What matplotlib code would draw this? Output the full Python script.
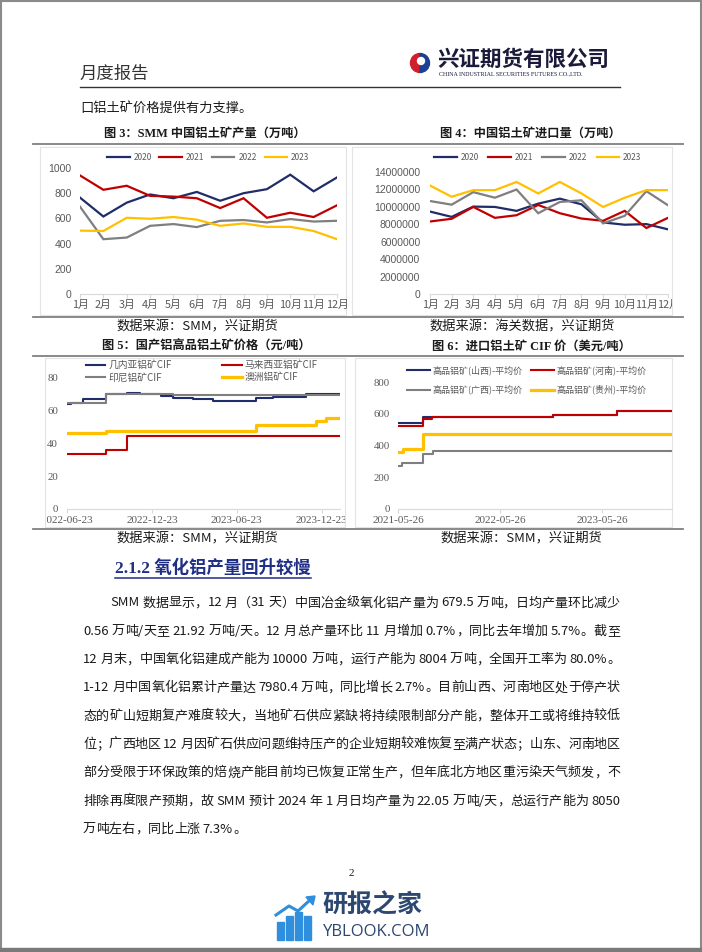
import matplotlib
matplotlib.use('Agg')
import matplotlib.pyplot as plt
import pandas as pd
import matplotlib.dates as mdates
from matplotlib.patches import Rectangle, Wedge, Circle, Polygon
from matplotlib.font_manager import FontProperties
from matplotlib.ticker import FuncFormatter
from matplotlib.transforms import Bbox, TransformedBbox

# ---------- data ----------
months = ['1月', '2月', '3月', '4月', '5月', '6月', '7月', '8月', '9月', '10月', '11月', '12月']
years = ['2020', '2021', '2022', '2023']

# 图3 SMM 中国铝土矿产量（万吨）
prod_2020 = [765, 615, 725, 790, 760, 810, 740, 800, 832, 947, 815, 925]
prod_2021 = [941, 827, 859, 779, 773, 760, 682, 760, 605, 645, 611, 704]
prod_2022 = [693, 435, 448, 541, 555, 531, 581, 587, 568, 595, 575, 581]
prod_2023 = [503, 500, 605, 597, 611, 590, 541, 560, 533, 533, 500, 435]

# 图4 中国铝土矿进口量
imp_2020 = [9460000, 8850000, 10030000, 9990000, 9540000, 10370000, 10940000, 10290000, 8210000, 7950000, 8020000, 7420000]
imp_2021 = [8320000, 8630000, 9990000, 8740000, 9040000, 10220000, 9270000, 8660000, 8400000, 9540000, 7570000, 8740000]
imp_2022 = [10670000, 10250000, 11690000, 11050000, 11990000, 9270000, 10560000, 10750000, 8100000, 8970000, 11800000, 10180000]
imp_2023 = [12450000, 11160000, 11920000, 11920000, 12860000, 11540000, 12860000, 11540000, 9990000, 11050000, 11920000, 11920000]

# 图5 国产铝高品铝土矿价格（阶梯数据：变动日期, 价格）
guinea_dates = ['2022-06-23', '2022-07-01', '2022-07-28', '2022-09-15', '2022-10-29', '2022-11-27', '2023-01-12',
                '2023-02-06', '2023-03-21', '2023-05-03', '2023-08-04', '2023-09-09', '2023-11-19', '2024-01-31']
guinea_vals = [64, 65, 67, 70, 71, 70, 69, 68, 67, 66, 68, 68.5, 70.5, 70.5]
malay_dates = ['2022-06-23', '2022-09-15', '2022-10-29', '2024-01-31']
malay_vals = [33.5, 36.3, 44.3, 44.3]
indo_dates = ['2022-06-23', '2022-09-15', '2022-11-27', '2023-02-06', '2024-01-31']
indo_vals = [65, 70.5, 70, 69.5, 69.5]
aus_dates = ['2022-06-23', '2022-09-15', '2023-08-04', '2023-12-11', '2024-01-01', '2024-01-31']
aus_vals = [46.3, 47.5, 51, 53.5, 55.5, 55.5]

# 图6 进口铝土矿 CIF 价
shanxi_dates = ['2021-05-26', '2021-08-25', '2022-12-03', '2023-07-17', '2024-01-31']
shanxi_vals = [540, 580, 590, 615, 615]
henan_dates = ['2021-05-26', '2021-08-25', '2021-09-23', '2022-12-03', '2023-07-17', '2024-01-31']
henan_vals = [525, 565, 580, 590, 618, 618]
guangxi_dates = ['2021-05-26', '2021-06-08', '2021-08-25', '2021-09-29', '2024-01-31']
guangxi_vals = [270, 290, 345, 365, 365]
guizhou_dates = ['2021-05-26', '2021-06-12', '2021-08-25', '2024-01-31']
guizhou_vals = [360, 375, 475, 475]

body_lines = [
    "SMM 数据显示，12 月（31 天）中国冶金级氧化铝产量为 679.5 万吨，日均产量环比减少",
    "0.56 万吨/天至 21.92 万吨/天。12 月总产量环比 11 月增加 0.7%，同比去年增加 5.7%。截至",
    "12 月末，中国氧化铝建成产能为 10000 万吨，运行产能为 8004 万吨，全国开工率为 80.0%。",
    "1-12 月中国氧化铝累计产量达 7980.4 万吨，同比增长 2.7%。目前山西、河南地区处于停产状",
    "态的矿山短期复产难度较大，当地矿石供应紧缺将持续限制部分产能，整体开工或将维持较低",
    "位；广西地区 12 月因矿石供应问题维持压产的企业短期较难恢复至满产状态；山东、河南地区",
    "部分受限于环保政策的焙烧产能目前均已恢复正常生产，但年底北方地区重污染天气频发，不",
    "排除再度限产预期，故 SMM 预计 2024 年 1 月日均产量为 22.05 万吨/天，总运行产能为 8050",
    "万吨左右，同比上涨 7.3%。",
]

# ---------- style ----------
W, H = 702, 952
CJK = ['Noto Sans CJK SC', 'DejaVu Sans']
SERIF = ['Liberation Serif', 'Noto Sans CJK SC']
plt.rcParams['font.family'] = CJK
NAVY, RED, GRAY, GOLD = '#1f2d69', '#c00000', '#7f7f7f', '#ffc000'
TICK = '#595959'
TXT = '#1a1a1a'

fig = plt.figure(figsize=(W / 100, H / 100), dpi=100)
bg = fig.add_axes([0, 0, 1, 1])
bg.set_xlim(0, W)
bg.set_ylim(H, 0)
bg.axis('off')


def add_ax(l, t, r, b):
    ax = fig.add_axes([l / W, 1 - b / H, (r - l) / W, (b - t) / H])
    ax.set_facecolor('none')
    for s in ['top', 'right', 'left']:
        ax.spines[s].set_visible(False)
    ax.spines['bottom'].set_color('#d9d9d9')
    return ax


def clip_xlabels(ax, x0, x1):
    box = TransformedBbox(Bbox.from_extents(x0, 0, x1, H), bg.transData)
    for lbl in ax.get_xticklabels():
        lbl.set_clip_on(True)
        lbl.set_clip_box(box)


# page frame
bg.add_patch(Rectangle((0.7, 0.7), W - 1.4, H - 1.4, fill=False, edgecolor='#8a8a8a', lw=1.5))
bg.add_patch(Rectangle((0, 948), W, 4, color='#7a7a7a'))

# ---------- header ----------
bg.text(79, 74, '月度报告', fontsize=12.5, color='#333333', va='center', ha='left')
bg.plot([80, 620], [87, 87], color='#333333', lw=1)
bg.add_patch(Wedge((420, 63), 9.5, 90, 270, color='#d0202e'))
bg.add_patch(Wedge((420, 63), 9.5, 270, 90, color='#1c3f94'))
bg.add_patch(Circle((421, 61), 3.5, color='white'))
bg.text(437, 59, '兴证期货有限公司', fontsize=15.5, fontweight='bold', color='#1a1a3a', va='center', ha='left')
bg.text(439, 74, 'CHINA INDUSTRIAL SECURITIES FUTURES CO.,LTD.', fontsize=4.3, family=SERIF,
        color='#1a1a3a', va='center', ha='left')
bg.text(80, 108, '口铝土矿价格提供有力支撑。', fontsize=9.5, color=TXT, va='center', ha='left')

# table rules and chart frames
for y in [144, 317, 356, 529]:
    bg.plot([33, 683], [y, y], color='#808080', lw=1.3)
for l, t, r, b in [(40, 147, 346, 315), (352, 147, 672, 315), (45, 358, 345, 527), (355, 358, 672, 527)]:
    bg.add_patch(Rectangle((l, t), r - l, b - t, fill=False, edgecolor='#e3e3e3', lw=0.8))

# titles & sources
title_kw = dict(fontsize=8.8, fontweight='bold', family=SERIF, color=TXT, va='center', ha='center')
bg.text(205, 134, '图 3：SMM 中国铝土矿产量（万吨）', **title_kw)
bg.text(530, 134, '图 4：中国铝土矿进口量（万吨）', **title_kw)
bg.text(206, 347, '图 5：国产铝高品铝土矿价格（元/吨）', **title_kw)
bg.text(531, 347, '图 6：进口铝土矿 CIF 价（美元/吨）', **title_kw)
src_kw = dict(fontsize=9.5, color=TXT, va='center', ha='center')
bg.text(197, 327, '数据来源：SMM，兴证期货', **src_kw)
bg.text(522, 327, '数据来源：海关数据，兴证期货', **src_kw)
bg.text(197, 539, '数据来源：SMM，兴证期货', **src_kw)
bg.text(521, 539, '数据来源：SMM，兴证期货', **src_kw)


# ---------- monthly line charts ----------
def month_chart(ax, series, ymax, ystep, pad):
    for vals, c, yr in zip(series, [NAVY, RED, GRAY, GOLD], years):
        ax.plot(range(12), vals, color=c, lw=1.6, label=yr, solid_joinstyle='miter')
    ax.set_xlim(0, 11)
    ax.set_ylim(0, ymax)
    ax.set_yticks(range(0, ymax + 1, ystep))
    ax.yaxis.set_major_formatter(FuncFormatter(lambda v, p: f'{int(v)}'))
    ax.set_xticks(range(12))
    ax.set_xticklabels(months)
    ax.tick_params(axis='y', length=0, pad=pad, labelsize=7.5, labelcolor=TICK)
    ax.tick_params(axis='x', length=3, color='#d9d9d9', pad=1.5, labelsize=7.8, labelcolor=TICK)
    for lbl in ax.get_yticklabels():
        lbl.set_family('Liberation Sans')


ax3 = add_ax(80, 168, 337, 294)
month_chart(ax3, [prod_2020, prod_2021, prod_2022, prod_2023], 1000, 200, 6)
ax3.legend(ncol=4, loc='center left', bbox_to_anchor=(107 / W, 1 - 157 / H), bbox_transform=fig.transFigure,
           frameon=False, fontsize=6, handlelength=2.7, handletextpad=0.5, columnspacing=0.9,
           borderpad=0, borderaxespad=0, labelcolor=TICK)

ax4 = add_ax(430, 172, 668, 294)
month_chart(ax4, [imp_2020, imp_2021, imp_2022, imp_2023], 14000000, 2000000, 7)
ax4.legend(ncol=4, loc='center left', bbox_to_anchor=(434 / W, 1 - 157 / H), bbox_transform=fig.transFigure,
           frameon=False, fontsize=6, handlelength=2.7, handletextpad=0.5, columnspacing=1.1,
           borderpad=0, borderaxespad=0, labelcolor=TICK)
clip_xlabels(ax4, 352, 672)


# ---------- step price charts ----------
def step_series(ax, dates, vals, color, lw, label):
    d = pd.to_datetime(dates)
    return ax.step(d, vals, where='post', color=color, lw=lw, label=label)[0]


def date_axis(ax, start, end, ticks, ymax, ystep, pad):
    ax.set_xlim(pd.Timestamp(start), pd.Timestamp(end))
    ax.set_ylim(0, ymax)
    ax.set_yticks(range(0, ymax + 1, ystep))
    ax.set_xticks(pd.to_datetime(ticks))
    ax.xaxis.set_major_formatter(mdates.DateFormatter('%Y-%m-%d'))
    ax.tick_params(axis='y', length=0, pad=pad, labelsize=7.8, labelcolor=TICK)
    ax.tick_params(axis='x', length=3, color='#d9d9d9', pad=2, labelsize=8, labelcolor=TICK)
    for lbl in ax.get_xticklabels() + ax.get_yticklabels():
        lbl.set_family('Liberation Serif')


ax5 = add_ax(67, 378, 340, 509)
h_gu = step_series(ax5, guinea_dates, guinea_vals, NAVY, 1.5, '几内亚铝矿CIF')
h_ma = step_series(ax5, malay_dates, malay_vals, RED, 1.5, '马来西亚铝矿CIF')
h_in = step_series(ax5, indo_dates, indo_vals, GRAY, 1.5, '印尼铝矿CIF')
h_au = step_series(ax5, aus_dates, aus_vals, GOLD, 2.3, '澳洲铝矿CIF')
date_axis(ax5, '2022-06-23', '2024-01-31', ['2022-06-23', '2022-12-23', '2023-06-23', '2023-12-23'], 80, 20, 6.5)
ax5.legend(handles=[h_gu, h_in, h_ma, h_au], ncol=2, loc='upper left',
           bbox_to_anchor=(86 / W, 1 - 360 / H), bbox_transform=fig.transFigure,
           frameon=False, fontsize=7, handlelength=2.0, handletextpad=0.3, columnspacing=5.2,
           labelspacing=0.25, borderpad=0, borderaxespad=0, labelcolor=TICK)
clip_xlabels(ax5, 47, 345)

ax6 = add_ax(398, 382, 672, 509)
step_series(ax6, shanxi_dates, shanxi_vals, NAVY, 1.5, '高品铝矿(山西)-平均价')
step_series(ax6, henan_dates, henan_vals, RED, 1.5, '高品铝矿(河南)-平均价')
step_series(ax6, guangxi_dates, guangxi_vals, GRAY, 1.5, '高品铝矿(广西)-平均价')
step_series(ax6, guizhou_dates, guizhou_vals, GOLD, 2.3, '高品铝矿(贵州)-平均价')
date_axis(ax6, '2021-05-26', '2024-01-31', ['2021-05-26', '2022-05-26', '2023-05-26'], 800, 200, 6)
h6 = ax6.get_lines()
ax6.legend(handles=[h6[0], h6[2], h6[1], h6[3]], ncol=2, loc='upper left',
           bbox_to_anchor=(407 / W, 1 - 365 / H), bbox_transform=fig.transFigure,
           frameon=False, fontsize=6.5, handlelength=2.5, handletextpad=0.3, columnspacing=1.0,
           labelspacing=1.1, borderpad=0, borderaxespad=0, labelcolor=TICK)

# ---------- section text ----------
head = bg.text(115, 568, '2.1.2 氧化铝产量回升较慢', fontsize=12.5, fontweight='bold', family=SERIF,
               color='#1f2f86', va='center', ha='left')
renderer = fig.canvas.get_renderer()
hw = head.get_window_extent(renderer).width
bg.plot([115, 115 + hw], [577.5, 577.5], color='#1f2f86', lw=1.1)

BODY_FS = 9.4
body_prop = FontProperties(family=CJK, size=BODY_FS)


def text_w(s):
    return renderer.get_text_width_height_descent(s, body_prop, ismath=False)[0]


BASE = text_w('中中')


def tokens_of(s):
    out, buf = [], ''
    for ch in s:
        if ch == ' ':
            if buf:
                out.append(buf)
                buf = ''
            out.append(' ')
        elif ord(ch) < 128:
            buf += ch
        else:
            if buf:
                out.append(buf)
                buf = ''
            out.append(ch)
    if buf:
        out.append(buf)
    return out


def draw_line(s, x0, x1, y, justify=True):
    toks = tokens_of(s)
    ws = [text_w('中' + t + '中') - BASE for t in toks]
    gap = (x1 - x0 - sum(ws)) / (len(toks) - 1) if justify else 0
    x = x0
    for t, w in zip(toks, ws):
        if t != ' ':
            bg.text(x, y, t, fontproperties=body_prop, color=TXT, va='center', ha='left')
        x += w + gap


for i, line in enumerate(body_lines):
    y = 603 + i * 28.3
    x0 = 110 if i == 0 else 83
    draw_line(line, x0, 620, y, justify=(i < len(body_lines) - 1))

# ---------- footer ----------
bg.text(351, 873, '2', fontsize=8, family=SERIF, color=TXT, va='center', ha='center')
ICON = '#2f8fdc'
for bx, top in [(277, 922), (286, 916), (295, 912), (304, 916)]:
    bg.add_patch(Rectangle((bx, top), 6.5, 940 - top, color=ICON))
bg.plot([276, 289, 298, 310], [915, 906, 911, 900], color=ICON, lw=2.2)
bg.add_patch(Polygon([[306, 897], [315, 896], [313, 905]], closed=True, color=ICON))
bg.text(322, 905, '研报之家', fontsize=18, fontweight='bold', color='#2c4770', va='center', ha='left')
bg.text(323, 932, 'YBLOOK.COM', fontsize=12, color='#2c4770', va='center', ha='left', family='Open Sans')

fig.savefig('out.png', dpi=100)
